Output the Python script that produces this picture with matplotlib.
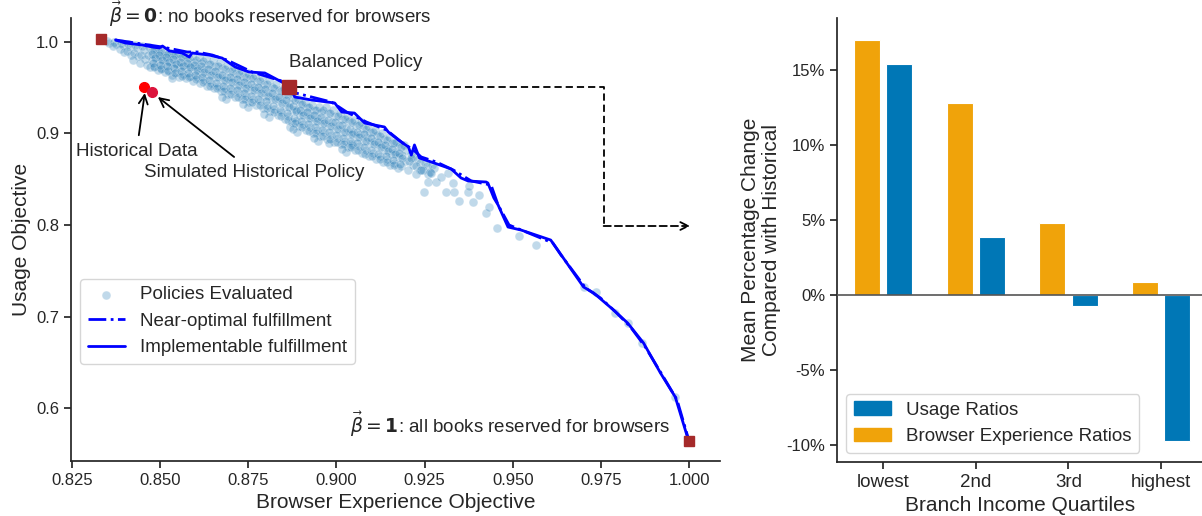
import matplotlib
matplotlib.use('Agg')
import matplotlib.pyplot as plt
import seaborn as sns
from matplotlib.patches import Patch
from matplotlib.ticker import FixedLocator

# ---------------- data: left panel ----------------
policy_x = [
    0.8350, 0.8356,
    0.8370, 0.8376, 0.8366,
    0.8390, 0.8396, 0.8386, 0.8398,
    0.8410, 0.8416, 0.8406, 0.8418,
    0.8430, 0.8436, 0.8426, 0.8438, 0.8424,
    0.8450, 0.8456, 0.8446, 0.8458, 0.8444,
    0.8470, 0.8476, 0.8466, 0.8478, 0.8464, 0.8473,
    0.8490, 0.8496, 0.8486, 0.8498, 0.8484, 0.8493,
    0.8510, 0.8516, 0.8506, 0.8518, 0.8504, 0.8513,
    0.8530, 0.8536, 0.8526, 0.8538, 0.8524, 0.8533,
    0.8550, 0.8556, 0.8546, 0.8558, 0.8544, 0.8553,
    0.8570, 0.8576, 0.8566, 0.8578, 0.8564, 0.8573,
    0.8590, 0.8596, 0.8586, 0.8598, 0.8584, 0.8593,
    0.8610, 0.8616, 0.8606, 0.8618, 0.8604, 0.8613,
    0.8630, 0.8636, 0.8626, 0.8638, 0.8624, 0.8633,
    0.8650, 0.8656, 0.8646, 0.8658, 0.8644, 0.8653,
    0.8670, 0.8676, 0.8666, 0.8678, 0.8664, 0.8673,
    0.8690, 0.8696, 0.8686, 0.8698, 0.8684, 0.8693, 0.8688,
    0.8710, 0.8716, 0.8706, 0.8718, 0.8704, 0.8713,
    0.8730, 0.8736, 0.8726, 0.8738, 0.8724, 0.8733,
    0.8750, 0.8756, 0.8746, 0.8758, 0.8744, 0.8753, 0.8748,
    0.8770, 0.8776, 0.8766, 0.8778, 0.8764, 0.8773,
    0.8790, 0.8796, 0.8786, 0.8798, 0.8784, 0.8793,
    0.8810, 0.8816, 0.8806, 0.8818, 0.8804, 0.8813, 0.8808,
    0.8830, 0.8836, 0.8826, 0.8838, 0.8824, 0.8833,
    0.8850, 0.8856, 0.8846, 0.8858, 0.8844, 0.8853,
    0.8870, 0.8876, 0.8866, 0.8878, 0.8864, 0.8873,
    0.8890, 0.8896, 0.8886, 0.8898, 0.8884, 0.8893, 0.8888,
    0.8910, 0.8916, 0.8906, 0.8918, 0.8904, 0.8913,
    0.8930, 0.8936, 0.8926, 0.8938, 0.8924, 0.8933,
    0.8950, 0.8956, 0.8946, 0.8958, 0.8944, 0.8953, 0.8948,
    0.8970, 0.8976, 0.8966, 0.8978, 0.8964, 0.8973,
    0.8990, 0.8996, 0.8986, 0.8998, 0.8984, 0.8993,
    0.9010, 0.9016, 0.9006, 0.9018, 0.9004, 0.9013,
    0.9030, 0.9036, 0.9026, 0.9038, 0.9024, 0.9033, 0.9028,
    0.9050, 0.9056, 0.9046, 0.9058, 0.9044, 0.9053,
    0.9070, 0.9076, 0.9066, 0.9078, 0.9064, 0.9073,
    0.9090, 0.9096, 0.9086, 0.9098, 0.9084, 0.9093,
    0.9110, 0.9116, 0.9106, 0.9118, 0.9104, 0.9113,
    0.9130, 0.9136, 0.9126, 0.9138, 0.9124, 0.9133,
    0.9150, 0.9156, 0.9146, 0.9158, 0.9144, 0.9153,
    0.9170, 0.9176, 0.9166, 0.9178, 0.9164, 0.9173,
    0.9190, 0.9196, 0.9186, 0.9198, 0.9184,
    0.9210, 0.9216, 0.9206, 0.9218, 0.9204,
    0.9230, 0.9236, 0.9226, 0.9238, 0.9224,
    0.9250, 0.9256, 0.9246, 0.9258,
    0.9270, 0.9276, 0.9266,
    0.8535, 0.8868, 0.8980, 0.9043, 0.9212, 0.9240, 0.9249,
    0.9269, 0.9260, 0.9283, 0.9297, 0.9311, 0.9317, 0.9331,
    0.9334, 0.9348, 0.9373, 0.9376, 0.9387, 0.9404, 0.9424,
    0.9432, 0.9455, 0.9517, 0.9565, 0.9700, 0.9734, 0.9790,
    0.9825, 0.9867, 0.9960,
    0.8483, 0.8477, 0.8485, 0.8479, 0.8482,
    0.8503, 0.8497, 0.8505, 0.8499, 0.8502,
    0.8523, 0.8517, 0.8525, 0.8519, 0.8522,
    0.8543, 0.8537, 0.8545, 0.8539, 0.8542,
    0.8563, 0.8557, 0.8565, 0.8559, 0.8562,
    0.8583, 0.8577, 0.8585, 0.8579, 0.8582,
    0.8603, 0.8597, 0.8605, 0.8599, 0.8602,
    0.8623, 0.8617, 0.8625, 0.8619, 0.8622,
    0.8643, 0.8637, 0.8645, 0.8639, 0.8642,
    0.8663, 0.8657, 0.8665, 0.8659, 0.8662,
    0.8683, 0.8677, 0.8685, 0.8679, 0.8682, 0.8676,
    0.8703, 0.8697, 0.8705, 0.8699, 0.8702,
    0.8723, 0.8717, 0.8725, 0.8719, 0.8722,
    0.8743, 0.8737, 0.8745, 0.8739, 0.8742, 0.8736,
    0.8763, 0.8757, 0.8765, 0.8759, 0.8762,
    0.8783, 0.8777, 0.8785, 0.8779, 0.8782,
    0.8803, 0.8797, 0.8805, 0.8799, 0.8802, 0.8796,
    0.8823, 0.8817, 0.8825, 0.8819, 0.8822,
    0.8843, 0.8837, 0.8845, 0.8839, 0.8842,
    0.8863, 0.8857, 0.8865, 0.8859, 0.8862,
    0.8883, 0.8877, 0.8885, 0.8879, 0.8882, 0.8876,
    0.8903, 0.8897, 0.8905, 0.8899, 0.8902,
    0.8923, 0.8917, 0.8925, 0.8919, 0.8922,
    0.8943, 0.8937, 0.8945, 0.8939, 0.8942, 0.8936,
    0.8963, 0.8957, 0.8965, 0.8959, 0.8962,
    0.8983, 0.8977, 0.8985, 0.8979, 0.8982,
    0.9003, 0.8997, 0.9005, 0.8999, 0.9002,
    0.9023, 0.9017, 0.9025, 0.9019, 0.9022, 0.9016,
    0.9043, 0.9037, 0.9045, 0.9039, 0.9042,
    0.9063, 0.9057, 0.9065, 0.9059, 0.9062,
    0.9083, 0.9077, 0.9085, 0.9079, 0.9082,
    0.9103, 0.9097, 0.9105, 0.9099, 0.9102,
    0.9123, 0.9117, 0.9125, 0.9119, 0.9122,
    0.9143, 0.9137, 0.9145, 0.9139, 0.9142,
    0.9163, 0.9157, 0.9165, 0.9159, 0.9162,
    0.9183, 0.9177, 0.9185, 0.9179,
]
policy_y = [
    1.001, 0.999,
    1.000, 0.997, 0.995,
    0.999, 0.996, 0.992, 0.989,
    0.998, 0.994, 0.990, 0.986,
    0.996, 0.993, 0.988, 0.984, 0.980,
    0.995, 0.991, 0.986, 0.981, 0.977,
    0.994, 0.990, 0.985, 0.980, 0.975, 0.972,
    0.992, 0.988, 0.983, 0.978, 0.973, 0.969,
    0.990, 0.986, 0.981, 0.976, 0.971, 0.967,
    0.988, 0.984, 0.979, 0.974, 0.969, 0.964,
    0.987, 0.982, 0.977, 0.972, 0.967, 0.962,
    0.985, 0.980, 0.975, 0.970, 0.965, 0.960,
    0.984, 0.978, 0.973, 0.968, 0.963, 0.957,
    0.983, 0.977, 0.971, 0.966, 0.961, 0.955,
    0.982, 0.976, 0.970, 0.964, 0.958, 0.952,
    0.980, 0.974, 0.968, 0.961, 0.955, 0.949,
    0.978, 0.971, 0.965, 0.958, 0.952, 0.946,
    0.975, 0.968, 0.962, 0.956, 0.949, 0.943, 0.938,
    0.972, 0.966, 0.960, 0.953, 0.947, 0.940,
    0.969, 0.963, 0.957, 0.950, 0.944, 0.937,
    0.966, 0.960, 0.954, 0.947, 0.941, 0.934, 0.929,
    0.964, 0.957, 0.951, 0.944, 0.938, 0.931,
    0.961, 0.954, 0.948, 0.941, 0.935, 0.928,
    0.958, 0.951, 0.945, 0.938, 0.931, 0.924, 0.918,
    0.954, 0.947, 0.941, 0.934, 0.927, 0.920,
    0.950, 0.943, 0.937, 0.930, 0.923, 0.916,
    0.946, 0.939, 0.933, 0.926, 0.919, 0.912,
    0.937, 0.932, 0.926, 0.920, 0.914, 0.908, 0.902,
    0.934, 0.929, 0.923, 0.917, 0.910, 0.904,
    0.931, 0.926, 0.920, 0.913, 0.907, 0.900,
    0.929, 0.923, 0.917, 0.910, 0.904, 0.897, 0.892,
    0.929, 0.922, 0.915, 0.908, 0.901, 0.894,
    0.926, 0.919, 0.912, 0.905, 0.898, 0.891,
    0.922, 0.916, 0.909, 0.902, 0.895, 0.888,
    0.919, 0.913, 0.906, 0.899, 0.892, 0.885, 0.880,
    0.915, 0.909, 0.902, 0.896, 0.889, 0.882,
    0.912, 0.906, 0.899, 0.892, 0.886, 0.879,
    0.908, 0.902, 0.896, 0.889, 0.882, 0.875,
    0.904, 0.898, 0.892, 0.885, 0.879, 0.872,
    0.900, 0.894, 0.888, 0.882, 0.875, 0.869,
    0.896, 0.890, 0.884, 0.878, 0.872, 0.866,
    0.891, 0.886, 0.880, 0.874, 0.868, 0.862,
    0.887, 0.882, 0.876, 0.870, 0.864,
    0.878, 0.874, 0.870, 0.865, 0.860,
    0.872, 0.868, 0.864, 0.860, 0.856,
    0.868, 0.864, 0.860, 0.856,
    0.866, 0.862, 0.858,
    0.960, 0.907, 0.890, 0.887, 0.873, 0.860, 0.836,
    0.857, 0.847, 0.847, 0.852, 0.836, 0.857, 0.846,
    0.836, 0.826, 0.836, 0.843, 0.825, 0.833, 0.813,
    0.820, 0.797, 0.788, 0.778, 0.733, 0.727, 0.704,
    0.693, 0.671, 0.6125,
    0.991, 0.987, 0.982, 0.977, 0.972,
    0.989, 0.985, 0.980, 0.975, 0.970,
    0.987, 0.983, 0.978, 0.973, 0.968,
    0.985, 0.981, 0.976, 0.971, 0.966,
    0.983, 0.978, 0.973, 0.968, 0.963,
    0.982, 0.977, 0.972, 0.966, 0.961,
    0.980, 0.975, 0.969, 0.964, 0.959,
    0.979, 0.973, 0.967, 0.962, 0.956,
    0.976, 0.970, 0.964, 0.958, 0.952,
    0.974, 0.968, 0.961, 0.955, 0.949,
    0.970, 0.964, 0.958, 0.952, 0.946, 0.940,
    0.968, 0.962, 0.956, 0.950, 0.943,
    0.965, 0.959, 0.953, 0.947, 0.940,
    0.962, 0.956, 0.950, 0.944, 0.937, 0.932,
    0.960, 0.954, 0.947, 0.941, 0.934,
    0.957, 0.951, 0.944, 0.938, 0.931,
    0.954, 0.948, 0.941, 0.935, 0.928, 0.921,
    0.950, 0.944, 0.937, 0.930, 0.923,
    0.946, 0.940, 0.933, 0.926, 0.919,
    0.942, 0.936, 0.929, 0.922, 0.915,
    0.936, 0.930, 0.924, 0.917, 0.911, 0.905,
    0.932, 0.926, 0.920, 0.913, 0.907,
    0.929, 0.923, 0.917, 0.910, 0.903,
    0.926, 0.920, 0.914, 0.907, 0.900, 0.895,
    0.925, 0.918, 0.911, 0.904, 0.897,
    0.922, 0.915, 0.908, 0.901, 0.894,
    0.919, 0.912, 0.905, 0.898, 0.891,
    0.916, 0.909, 0.902, 0.895, 0.888, 0.883,
    0.912, 0.905, 0.899, 0.892, 0.885,
    0.909, 0.902, 0.896, 0.889, 0.882,
    0.905, 0.899, 0.892, 0.885, 0.878,
    0.901, 0.895, 0.888, 0.882, 0.875,
    0.897, 0.891, 0.885, 0.878, 0.872,
    0.893, 0.887, 0.881, 0.875, 0.869,
    0.889, 0.883, 0.877, 0.871, 0.865,
    0.885, 0.879, 0.873, 0.867,
]

near_opt_x = [0.8374, 0.8450, 0.8507, 0.8577, 0.8606, 0.8648, 0.8690, 0.8761,
              0.8845, 0.8874, 0.8986, 0.9029, 0.9085, 0.9142, 0.9184, 0.9218,
              0.9240, 0.9283, 0.9331, 0.9382, 0.9438, 0.9458, 0.9489, 0.9537,
              0.9613, 0.9636, 0.9706, 0.9748, 0.9791, 0.9833, 0.9875, 0.9923,
              0.9965, 0.9999]
near_opt_y = [1.0019, 0.9975, 0.9942, 0.9888, 0.9888, 0.9855, 0.9800, 0.9670,
              0.9571, 0.9451, 0.9342, 0.9233, 0.9124, 0.9037, 0.8906, 0.8819,
              0.8743, 0.8688, 0.8601, 0.8481, 0.8437, 0.8219, 0.8001, 0.7925,
              0.7805, 0.7674, 0.7314, 0.7205, 0.7053, 0.6889, 0.6671, 0.6365,
              0.6093, 0.5645]

impl_x = [0.8374, 0.8402, 0.8450, 0.8479, 0.8498, 0.8507, 0.8527, 0.8563,
          0.8583, 0.8591, 0.8639, 0.8676, 0.8713, 0.8752, 0.8797, 0.8845,
          0.8868, 0.8882, 0.8930, 0.8995, 0.9015, 0.9051, 0.9080, 0.9136,
          0.9147, 0.9176, 0.9204, 0.9212, 0.9221, 0.9235, 0.9277, 0.9325,
          0.9353, 0.9373, 0.9424, 0.9429, 0.9446, 0.9458, 0.9486, 0.9523,
          0.9607, 0.9627, 0.9700, 0.9729, 0.9785, 0.9825, 0.9870, 0.9918,
          0.9960, 0.9997]
impl_y = [1.0020, 0.9986, 0.9964, 0.9942, 0.9931, 0.9953, 0.9899, 0.9877,
          0.9833, 0.9877, 0.9855, 0.9822, 0.9724, 0.9670, 0.9659, 0.9561,
          0.9506, 0.9397, 0.9364, 0.9332, 0.9233, 0.9222, 0.9113, 0.9070,
          0.9015, 0.8928, 0.8852, 0.8764, 0.8874, 0.8732, 0.8677, 0.8612,
          0.8514, 0.8481, 0.8470, 0.8459, 0.8296, 0.8219, 0.7979, 0.7946,
          0.7837, 0.7728, 0.7325, 0.7259, 0.7074, 0.6932, 0.6714, 0.6387,
          0.6125, 0.5656]

beta_zero = (0.8333, 1.0030)
beta_one = (1.0000, 0.5646)
balanced = (0.8866, 0.9506)
historical = (0.8455, 0.9506)
simulated_hist = (0.8477, 0.9452)

left_xticks = [0.825, 0.850, 0.875, 0.900, 0.925, 0.950, 0.975, 1.000]
left_yticks = [0.6, 0.7, 0.8, 0.9, 1.0]

# ---------------- data: right panel ----------------
quartiles = ['lowest', '2nd', '3rd', 'highest']
browser_ratios = [17.0, 12.78, 4.78, 0.84]
usage_ratios = [15.38, 3.89, -0.73, -9.73]
right_yticks = [-10, -5, 0, 5, 10, 15]
right_yticklabels = ['-10%', '-5%', '0%', '5%', '10%', '15%']

# ---------------- style ----------------
sns.set_theme(style='ticks')
plt.rcParams['font.family'] = ['Liberation Sans', 'DejaVu Sans']
plt.rcParams['mathtext.fontset'] = 'dejavusans'
TXT = '#262626'

fig = plt.figure(figsize=(12.02, 5.16), dpi=100)

# ---------------- left panel ----------------
ax1 = fig.add_axes([0.0591, 0.1066, 0.5400, 0.8584])
ax1.scatter(policy_x, policy_y, s=40, color='#1f77b4', alpha=0.28,
            edgecolor='white', linewidth=0.6, label='Policies Evaluated', zorder=1)
ax1.plot(near_opt_x, near_opt_y, color='blue', lw=2, ls='-.',
         label='Near-optimal fulfillment', zorder=2)
ax1.plot(impl_x, impl_y, color='blue', lw=2, ls='-',
         label='Implementable fulfillment', zorder=3)

ax1.plot([beta_zero[0]], [beta_zero[1]], 's', color='#A52A2A', ms=7.5, zorder=6)
ax1.plot([beta_one[0]], [beta_one[1]], 's', color='#A52A2A', ms=7.5, zorder=6,
         clip_on=False)
ax1.plot([balanced[0]], [balanced[1]], 's', color='#A52A2A', ms=9.5, zorder=6)
ax1.plot([historical[0]], [historical[1]], 'o', color='#FF0000', ms=7, zorder=6)
ax1.plot([simulated_hist[0]], [simulated_hist[1]], 'o', color='#DC143C', ms=7, zorder=6)

ax1.set_xlim(0.8248, 1.0087)
ax1.set_ylim(0.5427, 1.0258)
ax1.xaxis.set_major_locator(FixedLocator(left_xticks))
ax1.yaxis.set_major_locator(FixedLocator(left_yticks))
ax1.set_xticklabels([f'{v:.3f}' for v in left_xticks])
ax1.set_yticklabels([f'{v:.1f}' for v in left_yticks])
ax1.tick_params(labelsize=12, colors=TXT, length=5)
ax1.set_xlabel('Browser Experience Objective', fontsize=15, color=TXT)
ax1.set_ylabel('Usage Objective', fontsize=15, color=TXT)
sns.despine(ax=ax1)

# annotations
ax1.text(0.8355, 1.0207, r'$\vec{\beta}=\mathbf{0}$: no books reserved for browsers',
         fontsize=13.5, color=TXT, ha='left', va='baseline', clip_on=False)
ax1.text(0.9945, 0.5733, r'$\vec{\beta}=\mathbf{1}$: all books reserved for browsers',
         fontsize=13.5, color=TXT, ha='right', va='baseline')
ax1.text(0.8866, 0.9768, 'Balanced Policy', fontsize=13.5, color=TXT,
         ha='left', va='center')
ax1.text(0.8433, 0.8754, 'Historical Data', fontsize=13.5, color=TXT,
         ha='center', va='baseline')
ax1.text(0.8455, 0.8529, 'Simulated Historical Policy', fontsize=13.5, color=TXT,
         ha='left', va='baseline')
ax1.annotate('', xy=(0.8457, 0.9440), xytext=(0.8440, 0.8980),
             arrowprops=dict(arrowstyle='->', color='black', lw=1.3,
                             shrinkA=0, shrinkB=0, mutation_scale=16))
ax1.annotate('', xy=(0.8494, 0.9397), xytext=(0.8710, 0.8743),
             arrowprops=dict(arrowstyle='->', color='black', lw=1.3,
                             shrinkA=0, shrinkB=0, mutation_scale=16))
# dashed connector from balanced policy
ax1.plot([0.8888, 0.9757, 0.9757], [0.9506, 0.9506, 0.7990],
         color='black', lw=1.3, ls=(0, (4, 2.2)), zorder=4)
ax1.annotate('', xy=(1.0002, 0.7990), xytext=(0.9757, 0.7990),
             arrowprops=dict(arrowstyle='->', color='black', lw=1.3, ls=(0, (4, 2.2)),
                             shrinkA=0, shrinkB=0, mutation_scale=14))

leg1 = ax1.legend(loc='lower left', bbox_to_anchor=(0.014, 0.219), borderaxespad=0,
                  fontsize=13.5, frameon=True, handlelength=2.0)
for t in leg1.get_texts():
    t.set_color(TXT)

# ---------------- right panel ----------------
ax2 = fig.add_axes([0.6963, 0.1047, 0.3050, 0.8605])
pos = list(range(len(quartiles)))
ax2.bar([p - 0.175 for p in pos], browser_ratios, width=0.28, color='#F0A30A',
        edgecolor='white', linewidth=0.8, label='Browser Experience Ratios', zorder=2)
ax2.bar([p + 0.175 for p in pos], usage_ratios, width=0.28, color='#0077B6',
        edgecolor='white', linewidth=0.8, label='Usage Ratios', zorder=2)
ax2.axhline(0, color='#555555', lw=1.2, zorder=3)
ax2.set_xlim(-0.5, 3.46)
ax2.set_ylim(-11.13, 18.47)
ax2.set_xticks(pos)
ax2.set_xticklabels(quartiles)
ax2.yaxis.set_major_locator(FixedLocator(right_yticks))
ax2.set_yticklabels(right_yticklabels)
ax2.tick_params(axis='y', labelsize=12, colors=TXT, length=5)
ax2.tick_params(axis='x', labelsize=13.5, colors=TXT, length=5)
ax2.set_xlabel('Branch Income Quartiles', fontsize=15, color=TXT)
ax2.set_ylabel('Mean Percentage Change\nCompared with Historical', fontsize=15,
               color=TXT, linespacing=1.1)
sns.despine(ax=ax2)
leg2 = ax2.legend(handles=[Patch(color='#0077B6', label='Usage Ratios'),
                           Patch(color='#F0A30A', label='Browser Experience Ratios')],
                  loc='lower left', fontsize=13.5, frameon=True, handlelength=2.0)
for t in leg2.get_texts():
    t.set_color(TXT)

fig.savefig('out.png', dpi=100)
